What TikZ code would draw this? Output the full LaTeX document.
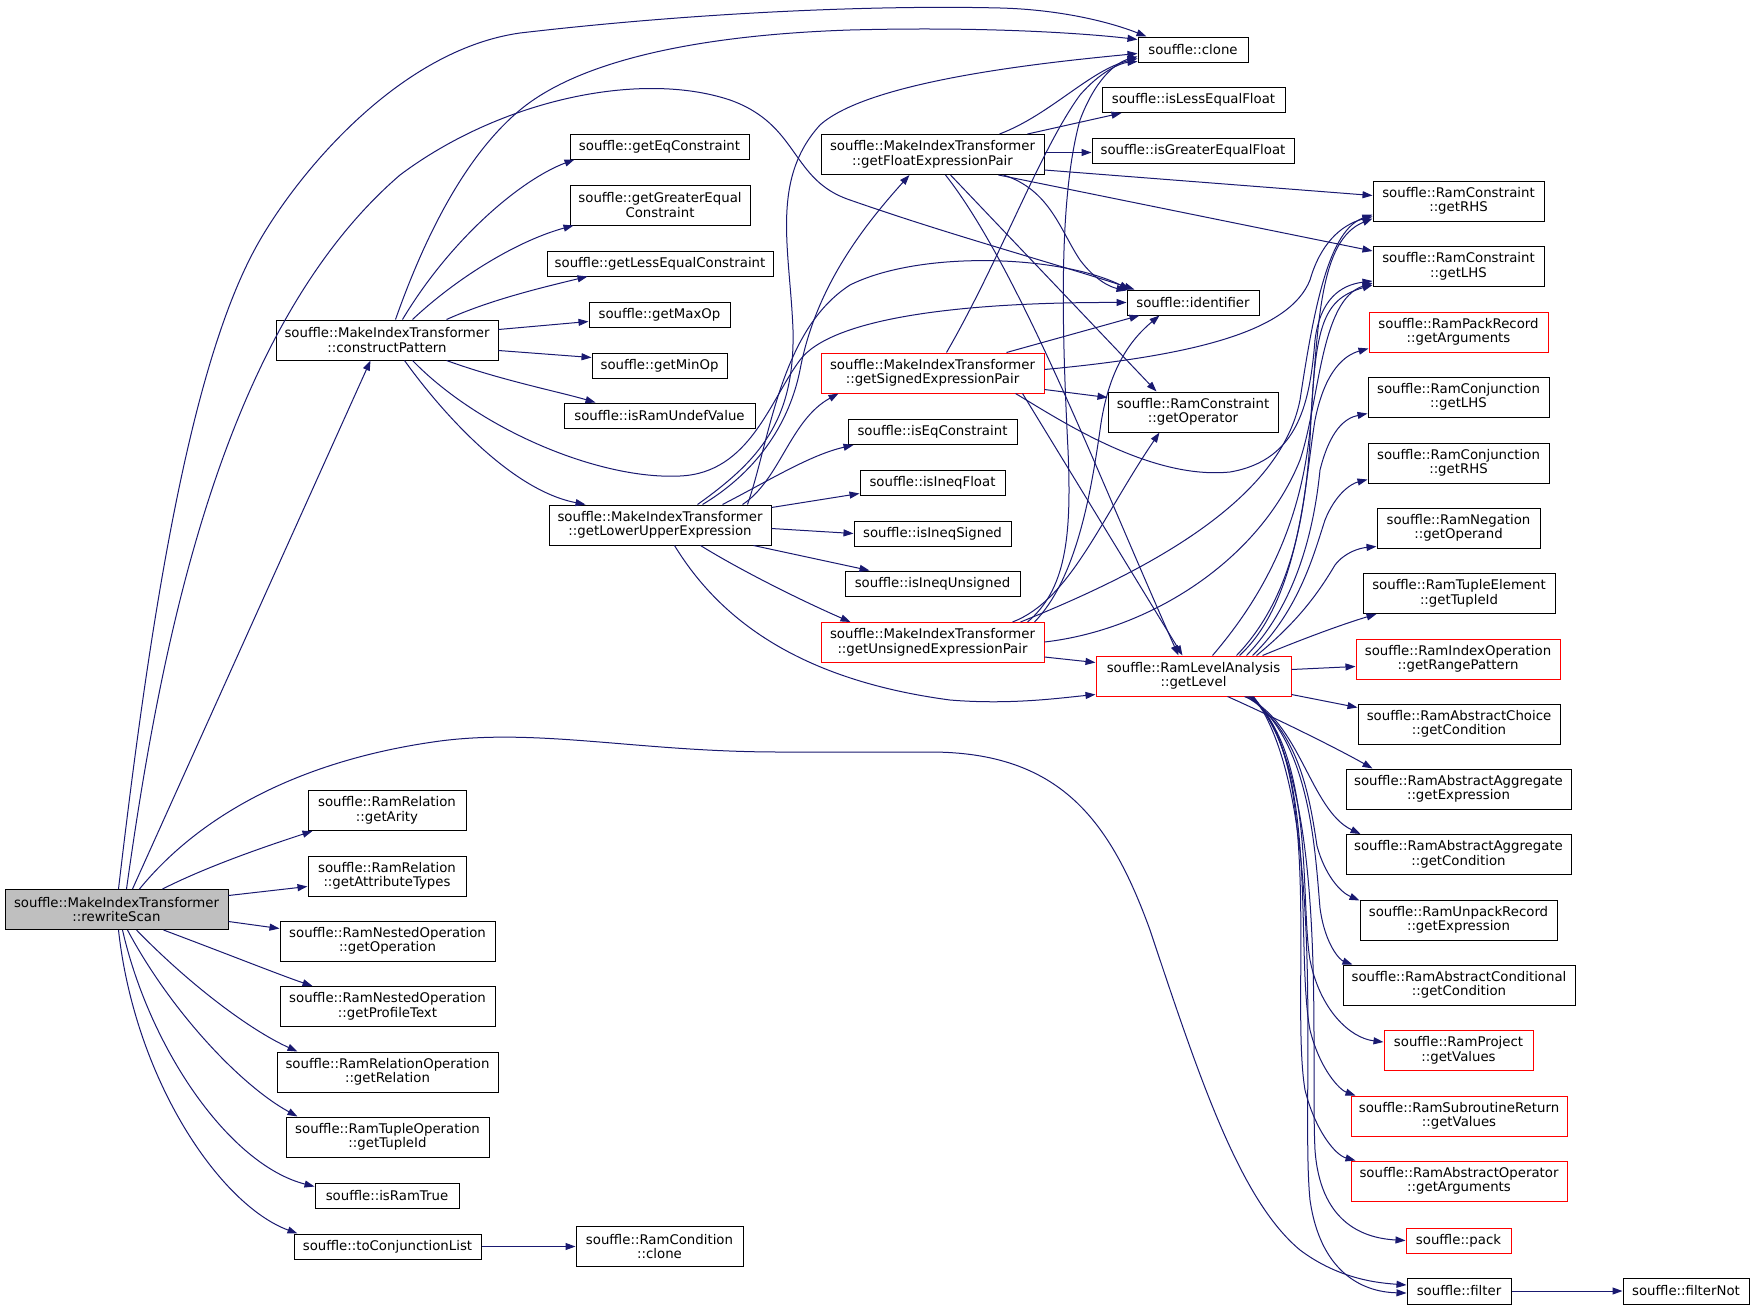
\documentclass[tikz,border=0pt]{standalone}
\usepackage{fontspec}
\setmainfont{DejaVu Sans}
\usetikzlibrary{arrows.meta,calc}
\definecolor{edgecol}{RGB}{25,25,112}
\definecolor{grayfill}{RGB}{191,191,191}
\begin{document}
\begin{tikzpicture}[x=1pt,y=-1pt,
 box/.style={draw=black, line width=1pt, fill=white, inner sep=0pt, align=center, minimum height=40pt, font=\fontsize{13.3}{14.5}\selectfont},
 one/.style={minimum height=25pt},
 hot/.style={draw=red},
 conn/.style={draw=edgecol, line width=1pt, -{Triangle[length=10pt,width=7pt]}}]
\fill[white] (0,0) rectangle (1755,1309);
\useasboundingbox (0,0) rectangle (1755,1309);
% ---------- nodes ----------
\node[box, fill=grayfill, minimum width=223pt] (rs) at (116.5,909.5) {souffle::MakeIndexTransformer\\::rewriteScan};
\node[box, one, minimum width=110pt] (clone) at (1193,49.5) {souffle::clone};
\node[box, minimum width=222pt] (cp) at (387,340) {souffle::MakeIndexTransformer\\::constructPattern};
\node[box, one, minimum width=179pt] (eq) at (659.5,146.5) {souffle::getEqConstraint};
\node[box, minimum width=180pt] (ge) at (660,205) {souffle::getGreaterEqual\\Constraint};
\node[box, one, minimum width=226pt] (le) at (660,263.5) {souffle::getLessEqualConstraint};
\node[box, one, minimum width=141pt] (max) at (659.5,314.5) {souffle::getMaxOp};
\node[box, one, minimum width=135pt] (min) at (659.5,365.5) {souffle::getMinOp};
\node[box, one, minimum width=191pt] (undef) at (659.5,415.5) {souffle::isRamUndefValue};
\node[box, minimum width=222pt] (lu) at (660,525) {souffle::MakeIndexTransformer\\::getLowerUpperExpression};
\node[box, minimum width=223pt] (fl) at (932.5,154.5) {souffle::MakeIndexTransformer\\::getFloatExpressionPair};
\node[box, hot, minimum width=223pt] (si) at (932.5,373) {souffle::MakeIndexTransformer\\::getSignedExpressionPair};
\node[box, one, minimum width=169pt] (iseq) at (932.5,432) {souffle::isEqConstraint};
\node[box, one, minimum width=145pt] (ifl) at (932.5,482.5) {souffle::isIneqFloat};
\node[box, one, minimum width=157pt] (isg) at (932.5,533.5) {souffle::isIneqSigned};
\node[box, one, minimum width=175pt] (iun) at (932.5,583.5) {souffle::isIneqUnsigned};
\node[box, hot, minimum width=223pt] (un) at (932.5,642.5) {souffle::MakeIndexTransformer\\::getUnsignedExpressionPair};
\node[box, one, minimum width=183pt] (lef) at (1193.5,100) {souffle::isLessEqualFloat};
\node[box, one, minimum width=202pt] (gef) at (1193,150.5) {souffle::isGreaterEqualFloat};
\node[box, one, minimum width=132pt] (id) at (1193,302.5) {souffle::identifier};
\node[box, minimum width=170pt] (op) at (1193,412) {souffle::RamConstraint\\::getOperator};
\node[box, hot, minimum width=195pt] (lv) at (1193.5,676) {souffle::RamLevelAnalysis\\::getLevel};
\node[box, minimum width=171pt] (crhs) at (1458.5,201) {souffle::RamConstraint\\::getRHS};
\node[box, minimum width=171pt] (clhs) at (1458.5,266.5) {souffle::RamConstraint\\::getLHS};
\node[box, hot, minimum width=179pt] (pr) at (1458.5,332) {souffle::RamPackRecord\\::getArguments};
\node[box, minimum width=181pt] (jl) at (1458.5,397) {souffle::RamConjunction\\::getLHS};
\node[box, minimum width=181pt] (jr) at (1458.5,463) {souffle::RamConjunction\\::getRHS};
\node[box, minimum width=163pt] (ng) at (1458.5,528) {souffle::RamNegation\\::getOperand};
\node[box, minimum width=192pt] (te) at (1459,593.5) {souffle::RamTupleElement\\::getTupleId};
\node[box, hot, minimum width=204pt] (rp) at (1458,659) {souffle::RamIndexOperation\\::getRangePattern};
\node[box, minimum width=202pt] (ac) at (1459,724) {souffle::RamAbstractChoice\\::getCondition};
\node[box, minimum width=225pt] (ae) at (1458.5,789) {souffle::RamAbstractAggregate\\::getExpression};
\node[box, minimum width=225pt] (agc) at (1458.5,854.5) {souffle::RamAbstractAggregate\\::getCondition};
\node[box, minimum width=197pt] (ur) at (1458.5,920) {souffle::RamUnpackRecord\\::getExpression};
\node[box, minimum width=232pt] (acd) at (1459,985) {souffle::RamAbstractConditional\\::getCondition};
\node[box, hot, minimum width=149pt] (pj) at (1458.5,1050.5) {souffle::RamProject\\::getValues};
\node[box, hot, minimum width=216pt] (sr) at (1459,1116) {souffle::RamSubroutineReturn\\::getValues};
\node[box, hot, minimum width=216pt] (ao) at (1459,1181) {souffle::RamAbstractOperator\\::getArguments};
\node[box, hot, one, minimum width=105pt] (pk) at (1458.5,1240.5) {souffle::pack};
\node[box, one, minimum width=104pt, minimum height=26pt] (ft) at (1459,1291) {souffle::filter};
\node[box, one, minimum width=126pt, minimum height=26pt] (fn) at (1686,1291) {souffle::filterNot};
\node[box, minimum width=158pt] (ar) at (387,810.5) {souffle::RamRelation\\::getArity};
\node[box, minimum width=158pt] (attr) at (387,876) {souffle::RamRelation\\::getAttributeTypes};
\node[box, minimum width=215pt] (no) at (387.5,941) {souffle::RamNestedOperation\\::getOperation};
\node[box, minimum width=215pt] (npt) at (387.5,1006.5) {souffle::RamNestedOperation\\::getProfileText};
\node[box, minimum width=221pt] (rel) at (387.5,1072) {souffle::RamRelationOperation\\::getRelation};
\node[box, minimum width=203pt] (tupop) at (387.5,1137) {souffle::RamTupleOperation\\::getTupleId};
\node[box, one, minimum width=144pt] (tr) at (387,1195.5) {souffle::isRamTrue};
\node[box, one, minimum width=187pt] (cl) at (387.5,1246.5) {souffle::toConjunctionList};
\node[box, minimum width=167pt] (cc) at (659.5,1246.5) {souffle::RamCondition\\::clone};
% ---------- edges from rewriteScan ----------
\draw[conn] ($(rs.north west)+(114,0)$) .. controls (150,620) and (190,360) .. (260,240) .. controls (300,171) and (400,50) .. (520,33) .. controls (700,12) and (880,5) .. (1000,8) .. controls (1060,9.5) and (1110,22) .. ($(clone.north west)+(9,0)$);
\draw[conn] ($(rs.north west)+(122,0)$) .. controls (160,650) and (220,330) .. (400,175) .. controls (500,100) and (640,70) .. (730,100) .. controls (800,125) and (790,180) .. (850,200) .. controls (950,235) and (1050,262) .. ($(id.north west)+(8,0)$);
\draw[conn] ($(rs.north west)+(128,0)$) -- ($(cp.south west)+(95,0)$);
\draw[conn] ($(rs.north west)+(135,0)$) .. controls (200,815) and (300,760) .. (440,741) .. controls (540,728) and (640,752) .. (780,752) -- (930,752) .. controls (1060,752) and (1110,820) .. (1150,930) .. controls (1200,1080) and (1240,1200) .. (1300,1250) .. controls (1340,1280) and (1380,1283) .. ($(ft.west)+(0,-6)$);
\draw[conn] ($(rs.north west)+(158,0)$) .. controls (210,865) and (270,845) .. ($(ar.south west)+(5,0)$);
\draw[conn] ($(rs.north east)+(0,6.5)$) -- ($(attr.north west)+(0,31)$);
\draw[conn] ($(rs.north east)+(0,32.5)$) -- ($(no.north west)+(0,8)$);
\draw[conn] ($(rs.south west)+(159,0)$) .. controls (230,955) and (280,975) .. ($(npt.north west)+(33,0)$);
\draw[conn] ($(rs.south west)+(132,0)$) .. controls (190,985) and (250,1030) .. ($(rel.north west)+(21,0)$);
\draw[conn] ($(rs.south west)+(123,0)$) .. controls (170,1010) and (240,1085) .. ($(tupop.north west)+(12,0)$);
\draw[conn] ($(rs.south west)+(118,0)$) .. controls (150,1050) and (230,1165) .. ($(tr.north west)+(0,4)$);
\draw[conn] ($(rs.south west)+(114,0)$) .. controls (135,1080) and (220,1205) .. ($(cl.north west)+(4,0)$);
\draw[conn] (cl.east) -- (cc.west);
% ---------- edges from constructPattern ----------
\draw[conn] ($(cp.north west)+(120,0)$) .. controls (420,250) and (460,160) .. (520,110) .. controls (580,60) and (700,35) .. (850,30) .. controls (1000,26) and (1100,35) .. ($(clone.north west)+(0,3)$);
\draw[conn] ($(cp.north west)+(127,0)$) .. controls (450,240) and (520,180) .. ($(eq.south west)+(5,0)$);
\draw[conn] ($(cp.north west)+(137,0)$) .. controls (460,275) and (520,240) .. ($(ge.south west)+(4,0)$);
\draw[conn] ($(cp.north west)+(171,0)$) .. controls (490,300) and (540,288) .. ($(le.south west)+(41,0)$);
\draw[conn] ($(cp.north east)+(0,10)$) -- ($(max.north west)+(0,20)$);
\draw[conn] ($(cp.north east)+(0,31)$) -- ($(min.north west)+(0,5)$);
\draw[conn] ($(cp.south west)+(171,0)$) .. controls (500,380) and (560,392) .. ($(undef.north west)+(32,0)$);
\draw[conn] ($(cp.south west)+(129,0)$) .. controls (440,410) and (510,490) .. ($(lu.north west)+(37,0)$);
\draw[conn] ($(cp.south west)+(137,0)$) .. controls (480,430) and (600,480) .. (680,476) .. controls (750,473) and (770,400) .. (800,360) .. controls (830,320) and (950,302) .. (id.west);
% ---------- edges from getLowerUpperExpression ----------
\draw[conn] ($(lu.north west)+(149,0)$) .. controls (760,460) and (795,420) .. (793,330) .. controls (790,250) and (770,180) .. (820,125) .. controls (870,80) and (1050,62) .. ($(clone.south west)+(0,-9)$);
\draw[conn] ($(lu.north west)+(154,0)$) .. controls (760,470) and (790,420) .. (800,370) .. controls (815,290) and (860,230) .. ($(fl.south west)+(89,0)$);
\draw[conn] ($(lu.north west)+(199,0)$) .. controls (770,440) and (780,330) .. (850,285) .. controls (920,250) and (1060,255) .. ($(id.north west)+(3,0)$);
\draw[conn] ($(lu.north west)+(194,0)$) .. controls (780,480) and (790,420) .. ($(si.south west)+(18,0)$);
\draw[conn] ($(lu.north west)+(174,0)$) .. controls (770,480) and (810,455) .. ($(iseq.south west)+(6,0)$);
\draw[conn] ($(lu.north east)+(0,3)$) -- ($(ifl.south west)+(0,-2)$);
\draw[conn] ($(lu.north east)+(0,24)$) -- (isg.west);
\draw[conn] ($(lu.south east)+(-18,0)$) -- ($(iun.north west)+(25,0)$);
\draw[conn] ($(lu.south east)+(-71,0)$) .. controls (740,570) and (800,600) .. ($(un.north west)+(30,0)$);
\draw[conn] ($(lu.south west)+(126,0)$) .. controls (720,620) and (800,680) .. (950,700) .. controls (1010,705) and (1060,698) .. ($(lv.south west)+(0,-2)$);
% ---------- edges from getFloatExpressionPair ----------
\draw[conn] ($(fl.north west)+(179,0)$) .. controls (1050,115) and (1090,70) .. ($(clone.south west)+(0,-4)$);
\draw[conn] ($(fl.north west)+(207,0)$) -- ($(lef.south west)+(20,0)$);
\draw[conn] ($(fl.north east)+(0,18.5)$) -- ($(gef.north west)+(0,15)$);
\draw[conn] ($(fl.north east)+(0,36)$) -- ($(crhs.north west)+(0,15)$);
\draw[conn] ($(fl.south west)+(178,0)$) -- ($(clhs.north west)+(0,5)$);
\draw[conn] ($(fl.south west)+(183,0)$) .. controls (1050,190) and (1060,230) .. (1080,260) .. controls (1095,280) and (1110,287) .. ($(id.north west)+(0,1)$);
\draw[conn] ($(fl.south west)+(130,0)$) -- ($(op.north west)+(49,0)$);
\draw[conn] ($(fl.south west)+(125,0)$) .. controls (1020,270) and (1100,480) .. ($(lv.north west)+(83,0)$);
% ---------- edges from getSignedExpressionPair ----------
\draw[conn] ($(si.north west)+(126,0)$) .. controls (1000,260) and (1040,150) .. (1080,95) .. controls (1100,72) and (1120,63) .. ($(clone.south west)+(0,-1)$);
\draw[conn] ($(si.north west)+(186,0)$) -- ($(id.south west)+(13,0)$);
\draw[conn] ($(si.north east)+(0,37)$) -- ($(op.north west)+(0,6)$);
\draw[conn] ($(si.north east)+(0,17)$) .. controls (1200,355) and (1290,330) .. (1310,280) .. controls (1320,245) and (1340,225) .. ($(crhs.south west)+(0,-5)$);
\draw[conn] ($(si.south east)+(-29,0)$) .. controls (1060,420) and (1150,480) .. (1230,472) .. controls (1300,460) and (1310,400) .. (1315,340) .. controls (1320,300) and (1340,285) .. ($(clhs.south west)+(0,-6)$);
\draw[conn] ($(si.south east)+(-22,0)$) -- ($(lv.north west)+(87,0)$);
% ---------- edges from getUnsignedExpressionPair ----------
\draw[conn] ($(un.north west)+(207,0)$) .. controls (1065,590) and (1072,540) .. (1068,450) .. controls (1062,330) and (1058,200) .. (1080,120) .. controls (1095,80) and (1115,63) .. ($(clone.south west)+(0,-6)$);
\draw[conn] ($(un.north west)+(214,0)$) .. controls (1075,580) and (1090,500) .. (1100,430) .. controls (1108,370) and (1130,340) .. ($(id.south west)+(33,0)$);
\draw[conn] ($(un.north west)+(192,0)$) .. controls (1070,600) and (1100,520) .. ($(op.south west)+(52,0)$);
\draw[conn] ($(un.north west)+(200,0)$) .. controls (1150,570) and (1280,500) .. (1300,400) .. controls (1315,300) and (1330,230) .. ($(crhs.south west)+(0,-7)$);
\draw[conn] ($(un.north east)+(0,20)$) .. controls (1150,630) and (1260,560) .. (1300,460) .. controls (1320,400) and (1320,300) .. ($(clhs.south west)+(0,-4)$);
\draw[conn] ($(un.north east)+(0,35)$) -- ($(lv.north west)+(0,7)$);
% ---------- edges from getLevel ----------
\draw[conn] ($(lv.north west)+(117,0)$) .. controls (1260,600) and (1300,530) .. (1310,430) .. controls (1318,320) and (1320,240) .. ($(crhs.south west)+(0,-3)$);
\draw[conn] ($(lv.north west)+(141,0)$) .. controls (1290,600) and (1305,520) .. (1310,440) .. controls (1315,330) and (1320,300) .. ($(clhs.south west)+(0,-2)$);
\draw[conn] ($(lv.north west)+(144,0)$) .. controls (1300,600) and (1305,480) .. (1315,420) .. controls (1325,370) and (1345,355) .. ($(pr.south west)+(0,-4)$);
\draw[conn] ($(lv.north west)+(151,0)$) .. controls (1300,600) and (1315,520) .. (1320,470) .. controls (1330,430) and (1345,418) .. ($(jl.south west)+(0,-4)$);
\draw[conn] ($(lv.north west)+(157,0)$) .. controls (1300,610) and (1315,550) .. (1325,520) .. controls (1335,495) and (1350,484) .. ($(jr.south west)+(0,-4)$);
\draw[conn] ($(lv.north west)+(161,0)$) .. controls (1300,620) and (1320,590) .. (1335,565) .. controls (1345,552) and (1360,548) .. ($(ng.south west)+(0,-2)$);
\draw[conn] ($(lv.north west)+(167,0)$) .. controls (1300,640) and (1340,625) .. ($(te.south west)+(14,0)$);
\draw[conn] ($(lv.north east)+(0,14)$) -- ($(rp.north west)+(0,28)$);
\draw[conn] ($(lv.south east)+(0,-2)$) -- ($(ac.north west)+(0,4)$);
\draw[conn] ($(lv.south west)+(132,0)$) .. controls (1280,720) and (1340,750) .. ($(ae.north west)+(27,0)$);
\draw[conn] ($(lv.south west)+(149,0)$) .. controls (1300,720) and (1310,810) .. ($(agc.north west)+(15,0)$);
\draw[conn] ($(lv.south west)+(151,0)$) .. controls (1300,730) and (1310,800) .. (1317,846) .. controls (1325,875) and (1340,892) .. ($(ur.north west)+(0,1)$);
\draw[conn] ($(lv.south west)+(153,0)$) .. controls (1310,740) and (1315,850) .. (1320,908) .. controls (1325,945) and (1340,960) .. ($(acd.north west)+(10,0)$);
\draw[conn] ($(lv.south west)+(154,0)$) .. controls (1315,750) and (1300,900) .. (1310,960) .. controls (1320,1010) and (1350,1038) .. ($(pj.north west)+(0,12)$);
\draw[conn] ($(lv.south west)+(155,0)$) .. controls (1320,760) and (1295,950) .. (1310,1030) .. controls (1320,1070) and (1340,1090) .. ($(sr.north west)+(5,0)$);
\draw[conn] ($(lv.south west)+(156,0)$) .. controls (1325,760) and (1290,1000) .. (1305,1090) .. controls (1315,1130) and (1335,1155) .. ($(ao.north west)+(5,0)$);
\draw[conn] ($(lv.south west)+(157,0)$) .. controls (1330,780) and (1310,1050) .. (1315,1150) .. controls (1320,1220) and (1360,1238) .. (pk.west);
\draw[conn] ($(lv.south west)+(158,0)$) .. controls (1330,800) and (1300,1100) .. (1310,1200) .. controls (1320,1270) and (1360,1292) .. ($(ft.west)+(0,2)$);
\draw[conn] (ft.east) -- (fn.west);
\end{tikzpicture}
\end{document}
